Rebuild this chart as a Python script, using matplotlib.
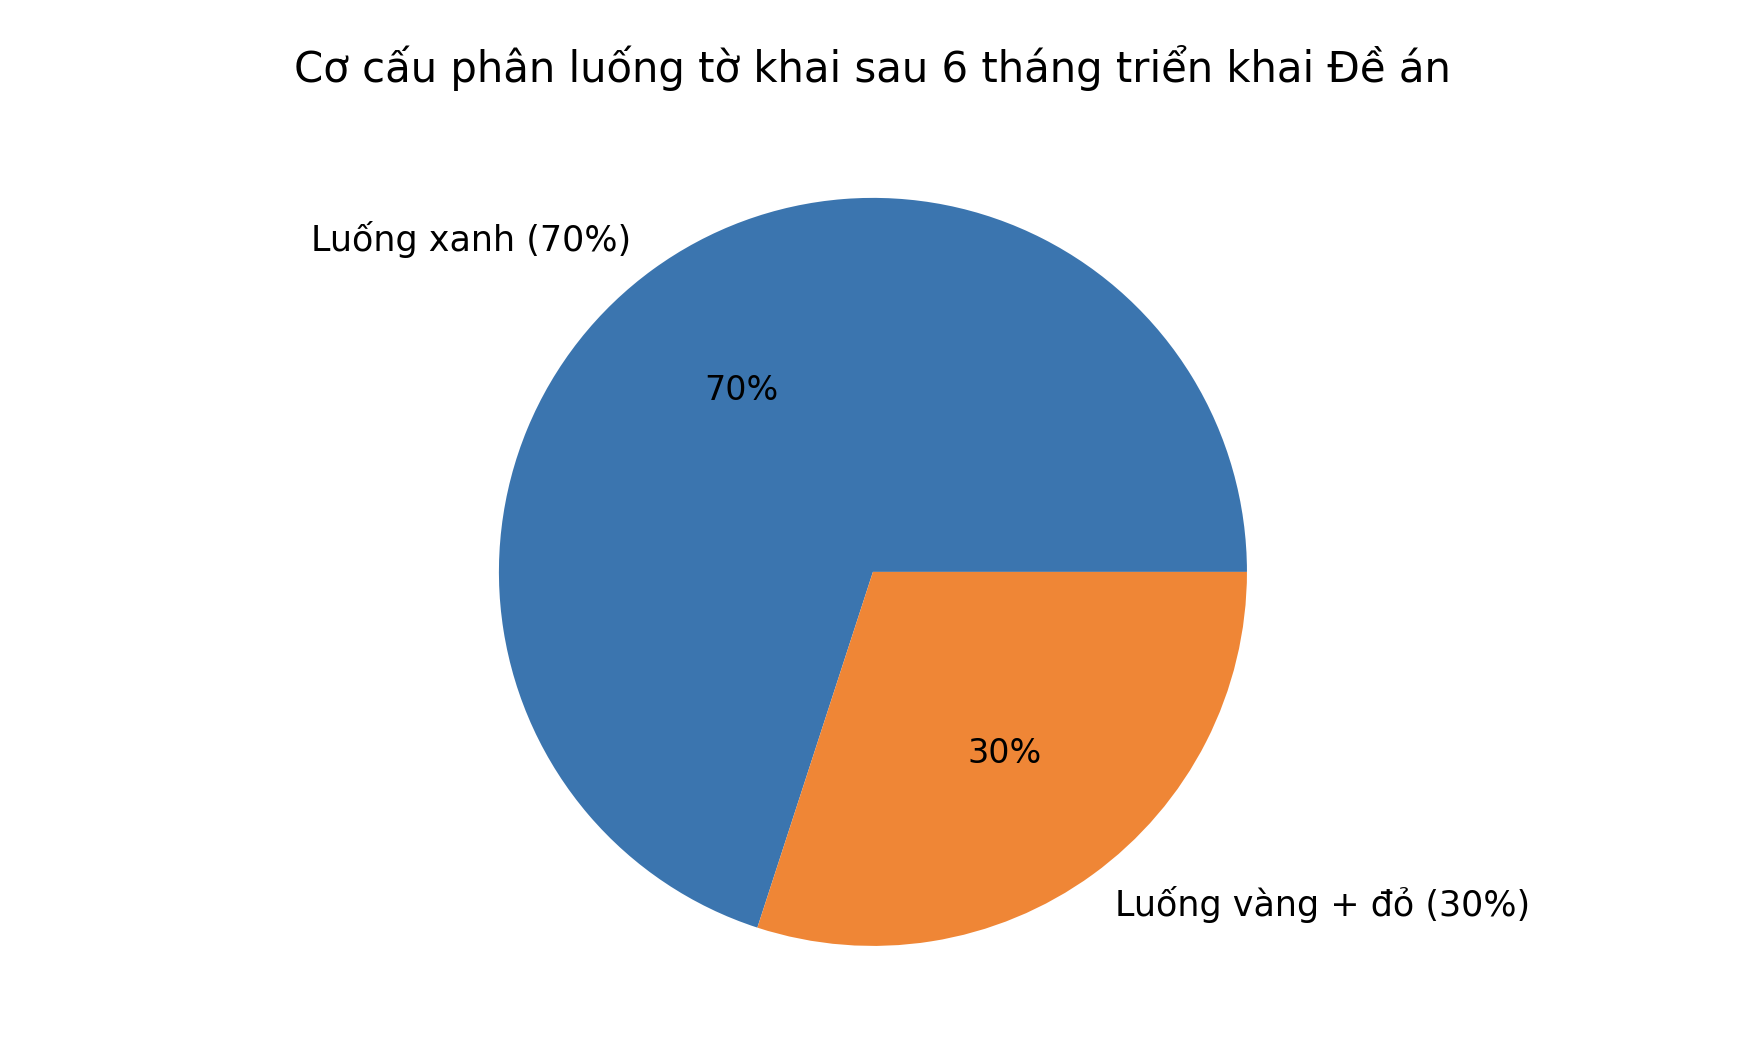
import matplotlib
matplotlib.use("Agg")
import matplotlib.pyplot as plt

labels = ["Luống xanh (70%)", "Luống vàng + đỏ (30%)"]
values = [70, 30]
colors = ["#3b75af", "#ef8636"]
title = "Cơ cấu phân luống tờ khai sau 6 tháng triển khai Đề án"

plt.rcParams['font.family'] = ['DejaVu Sans']

fig = plt.figure(figsize=(8.76, 5.32), dpi=200)
ax = fig.add_axes([0.2314, 0.023, 0.5337, 0.879])
wedges, texts, autotexts = ax.pie(values, labels=labels, colors=colors,
                                  autopct='%1.0f%%')
for t in texts:
    t.set_fontsize(12.6)
for t in autotexts:
    t.set_fontsize(12)
ax.set_aspect('equal')
ax.set_title(title, fontsize=15.1, pad=8)
fig.savefig("out.png", dpi=200)
